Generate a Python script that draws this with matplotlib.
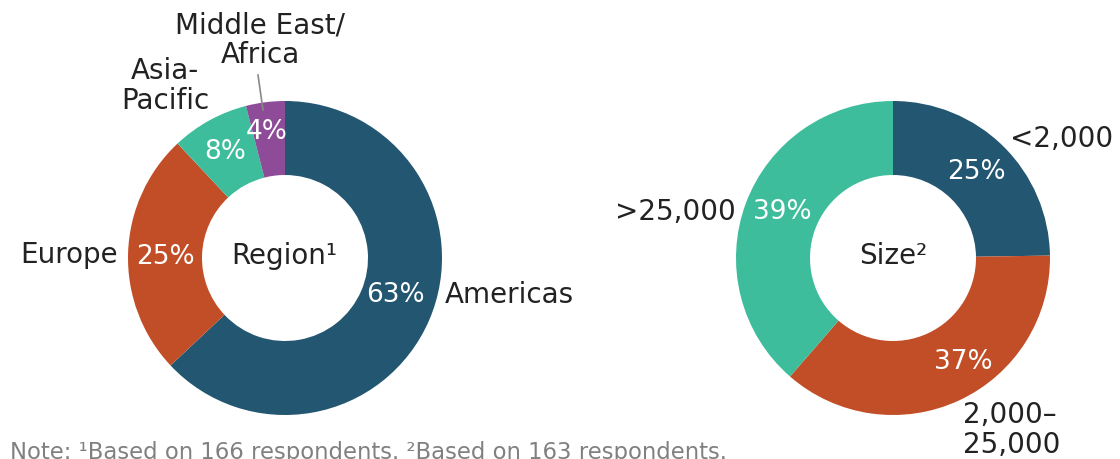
import matplotlib
matplotlib.use("Agg")
import matplotlib.pyplot as plt

plt.rcParams['font.family'] = ['DejaVu Sans']

# Dados
region_labels = ['Americas', 'Europe', 'Asia-\nPacific', 'Middle East/\nAfrica']
region_values = [63, 25, 8, 4]
size_labels = ['<2,000', '2,000–\n25,000', '>25,000']
size_values = [25, 37, 39]

blue = '#235671'
orange = '#C24E27'
teal = '#3DBD9B'
purple = '#8D4B98'
region_colors = [blue, orange, teal, purple]
size_colors = [blue, orange, teal]

H = 459  # altura em pixels; y da imagem -> y dos dados


def py(y):
    return H - y


fig = plt.figure(figsize=(11.2, 4.59), dpi=100)
ax = fig.add_axes([0, 0, 1, 1])

R_OUT = 157
R_W = 74

# Donut da região
ax.pie(region_values, colors=region_colors, startangle=90, counterclock=False,
       radius=R_OUT, center=(285, py(258)), frame=True,
       wedgeprops=dict(width=R_W, linewidth=0))
# Donut do tamanho
ax.pie(size_values, colors=size_colors, startangle=90, counterclock=False,
       radius=R_OUT, center=(893, py(258)), frame=True,
       wedgeprops=dict(width=R_W, linewidth=0))

ax.set_xlim(0, 1120)
ax.set_ylim(0, H)
ax.set_aspect('equal')
ax.axis('off')

pct_font = dict(color='white', fontsize=19, ha='center', va='center', fontweight='medium')
lab_font = dict(color='#222222', fontsize=20, va='center')

# Percentuais (posições em pixels da imagem)
region_pct_pos = [(395, 295), (165, 257), (225, 152), (267, 132)]
size_pct_pos = [(976, 172), (963, 362), (782, 212)]
for v, (x, y) in zip(region_values, region_pct_pos):
    ax.text(x, py(y), f'{v}%', **pct_font)
for v, (x, y) in zip(size_values, size_pct_pos):
    ax.text(x, py(y), f'{v}%', **pct_font)

# Rótulos externos
ax.text(445, py(295), region_labels[0], ha='left', **lab_font)
ax.text(118, py(255), region_labels[1], ha='right', **lab_font)
ax.text(165, py(86), region_labels[2], ha='center', multialignment='center',
        linespacing=1.05, **lab_font)
ax.text(260, py(40), region_labels[3], ha='center', multialignment='center',
        linespacing=1.05, **lab_font)
ax.plot([258, 263], [py(75), py(110)], color='#888888', lw=1.2)

ax.text(1010, py(139), size_labels[0], ha='left', **lab_font)
ax.text(963, py(430), size_labels[1], ha='left', multialignment='left',
        linespacing=1.05, **lab_font)
ax.text(736, py(212), size_labels[2], ha='right', **lab_font)

# Centros
ax.text(284, py(256), 'Region¹', ha='center', **lab_font)
ax.text(893, py(256), 'Size²', ha='center', **lab_font)

# Nota
ax.text(10, py(441), 'Note: ¹Based on 166 respondents. ²Based on 163 respondents.',
        color='#808080', fontsize=16.4, ha='left', va='top')

fig.savefig('out.png', dpi=100)
